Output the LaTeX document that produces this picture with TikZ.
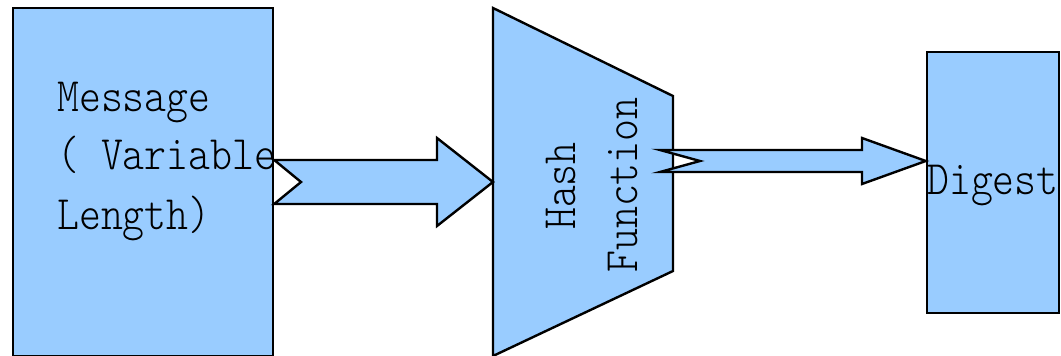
\documentclass[tikz,border=0pt]{standalone}
\usepackage{fontspec}
\usetikzlibrary{calc}
\newfontfamily\lblfont{Latin Modern Mono Light}[FakeStretch=0.87]
\definecolor{boxblue}{RGB}{153,204,255}
\tikzset{
  shapefill/.style={fill=boxblue, draw=black, line width=2.4pt, line join=miter},
  blockbox/.style={shapefill, rectangle, inner sep=0pt},
  blockarrow/.style={shapefill},
  lbl/.style={inner sep=0pt, font=\lblfont\fontsize{48}{58}\selectfont}
}
\begin{document}
\begin{tikzpicture}[x=1pt, y=-1pt]
  \useasboundingbox (0,0) rectangle (1061,356);

  % input message block
  \node[blockbox, minimum width=260pt, minimum height=348pt] (msg) at (143,182) {};
  \node[lbl, anchor=base west] (l1) at (57,111) {Message};
  \node[lbl, anchor=base west] (l2) at (57,169) {( Variable};
  \node[lbl, anchor=base west] (l3) at (57,229) {Length)};

  % hash function (trapezoid, wide side facing the input)
  \coordinate (hin) at (493,182);
  \coordinate (hout) at (673,161);
  \draw[shapefill] (493,8) -- (673,96) -- (673,271) -- (493,356) -- cycle;
  \node[lbl, rotate=90, anchor=base] (h1) at (575,186) {Hash};
  \node[lbl, rotate=90, anchor=base] (h2) at (637,185) {Function};

  % output digest block
  \node[blockbox, minimum width=132pt, minimum height=261pt] (dig) at (993,182.5) {};
  \node[lbl, anchor=base west] (d1) at (927,194) {Digest};

  % message -> hash
  \draw[blockarrow] ($(msg.east)+(0,-22)$) -- (437,160) -- (437,138) -- (hin)
    -- (437,226) -- (437,204) -- ($(msg.east)+(0,22)$) -- (301,182) -- cycle;

  % hash -> digest
  \coordinate (dtip) at (dig.west |- hout);
  \draw[blockarrow] (660,150) -- (862,150) -- (862,138) -- (dtip)
    -- (862,184) -- (862,172) -- (660,172) -- (700,161) -- cycle;
\end{tikzpicture}
\end{document}
